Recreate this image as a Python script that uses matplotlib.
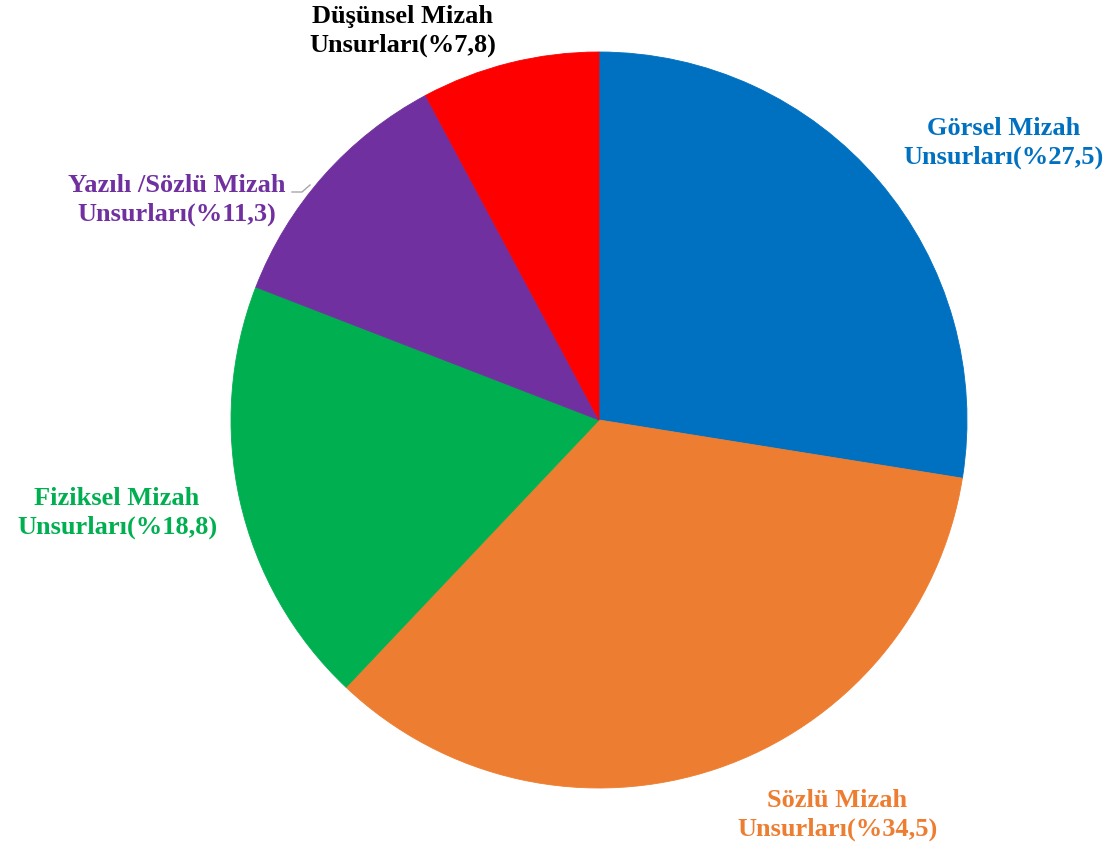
import matplotlib
matplotlib.use("Agg")
import matplotlib.pyplot as plt

categories = ["Görsel Mizah\nUnsurları(%27,5)", "Sözlü Mizah\nUnsurları(%34,5)",
              "Fiziksel Mizah\nUnsurları(%18,8)", "Yazılı /Sözlü Mizah\nUnsurları(%11,3)",
              "Düşünsel Mizah\nUnsurları(%7,8)"]
values = [27.5, 34.5, 18.8, 11.3, 7.8]
colors = ["#0070C0", "#ED7D31", "#00B050", "#7030A0", "#FF0000"]
label_colors = ["#0070C0", "#ED7D31", "#00B050", "#7030A0", "#000000"]

# label layout (pixel coordinates, origin top-left)
label_pos = [(1004, 143), (837, 815), (117, 513), (177, 200), (403, 31)]

W, H = 1109, 854
fig = plt.figure(figsize=(W / 100, H / 100), dpi=100)
ax = fig.add_axes([0, 0, 1, 1])

wedges, _ = ax.pie(values, colors=colors, startangle=90, counterclock=False,
                   center=(599, H - 421), radius=368, frame=True)
for w, c in zip(wedges, colors):
    w.set_edgecolor(c)
    w.set_linewidth(0.6)
ax.set_xlim(0, W)
ax.set_ylim(0, H)
ax.set_aspect("auto")
ax.axis("off")

for lab, (px, py), c in zip(categories, label_pos, label_colors):
    ax.text(px, H - py, lab, ha="center", va="center", color=c,
            fontsize=19, fontweight="bold", family="Liberation Serif",
            linespacing=1.3)

# leader line for the Yazılı label
ax.plot([292, 302, 310], [H - 193, H - 193, H - 186], color="#A6A6A6", lw=1)

fig.savefig("out.png", dpi=100)
